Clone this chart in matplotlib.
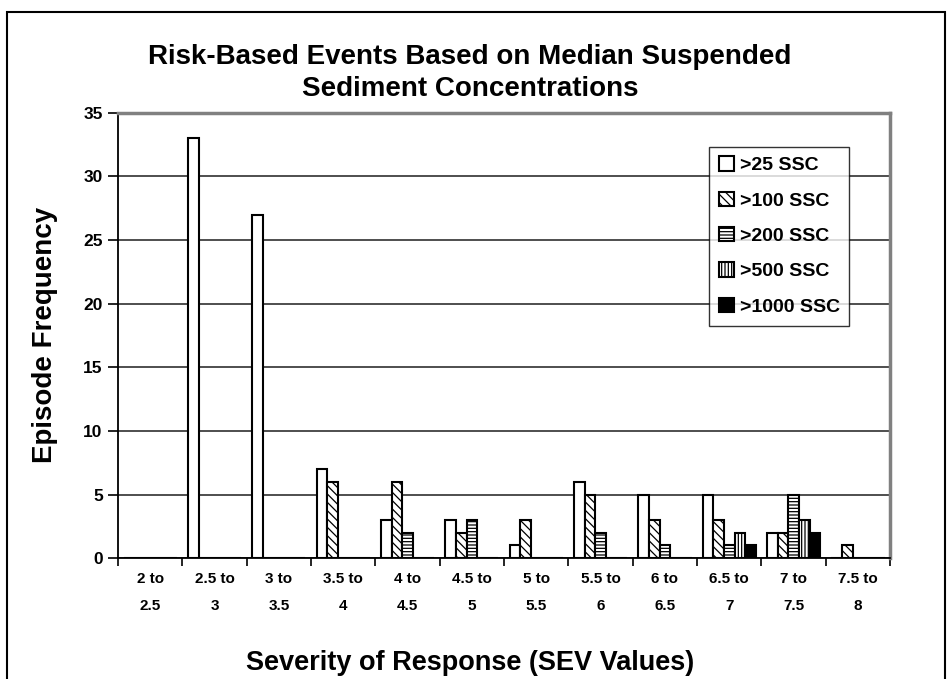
import matplotlib
matplotlib.use("Agg")
import matplotlib.pyplot as plt
import numpy as np
from matplotlib.patches import Rectangle

categories = ["2 to\n2.5", "2.5 to\n3", "3 to\n3.5", "3.5 to\n4", "4 to\n4.5", "4.5 to\n5",
              "5 to\n5.5", "5.5 to\n6", "6 to\n6.5", "6.5 to\n7", "7 to\n7.5", "7.5 to\n8"]
ssc25 = [0, 33, 27, 7, 3, 3, 1, 6, 5, 5, 2, 0]
ssc100 = [0, 0, 0, 6, 6, 2, 3, 5, 3, 3, 2, 1]
ssc200 = [0, 0, 0, 0, 2, 3, 0, 2, 1, 1, 5, 0]
ssc500 = [0, 0, 0, 0, 0, 0, 0, 0, 0, 2, 3, 0]
ssc1000 = [0, 0, 0, 0, 0, 0, 0, 0, 0, 1, 2, 0]
series_names = [">25 SSC", ">100 SSC", ">200 SSC", ">500 SSC", ">1000 SSC"]
yticks = [0, 5, 10, 15, 20, 25, 30, 35]

plt.rcParams['font.family'] = ['Liberation Sans', 'DejaVu Sans']
plt.rcParams['hatch.linewidth'] = 0.9

fig = plt.figure(figsize=(9.48, 6.79), dpi=100)
ax = fig.add_axes([0.1245, 0.178, 0.8145, 0.656])

series = [ssc25, ssc100, ssc200, ssc500, ssc1000]
styles = [dict(facecolor='white', hatch=None),
          dict(facecolor='white', hatch='\\\\\\\\'),
          dict(facecolor='white', hatch='-----'),
          dict(facecolor='white', hatch='|||||'),
          dict(facecolor='black', hatch=None)]
x = np.arange(len(categories))
w = 0.165
for i, (vals, st, name) in enumerate(zip(series, styles, series_names)):
    ax.bar(x + (i - 2) * w, vals, width=w, edgecolor='black', linewidth=1.5,
           label=name, zorder=3, **st)

ax.set_xlim(-0.5, len(categories) - 0.5)
ax.set_ylim(0, 35)
ax.set_yticks(yticks)
ax.set_yticklabels([str(t) for t in yticks], fontsize=12.5, fontweight='bold')
ax.set_xticks(x)
ax.set_xticklabels(categories, fontsize=11, fontweight='bold', linespacing=2.2)
ax.tick_params(axis='x', length=0, pad=10)
ax.set_xticks(np.arange(-0.5, len(categories)), minor=True)
ax.tick_params(axis='x', which='minor', length=6, width=1.2, direction='out')
ax.tick_params(axis='y', length=7, width=1.2, direction='out', pad=4)

ax.yaxis.grid(True, color='#404040', linewidth=1.3, zorder=0)
ax.set_axisbelow(True)
for s in ['top', 'right']:
    ax.spines[s].set_color('#808080')
    ax.spines[s].set_linewidth(2.5)
ax.spines['left'].set_color('black')
ax.spines['left'].set_linewidth(1.3)
ax.spines['bottom'].set_color('black')
ax.spines['bottom'].set_linewidth(1.3)

ax.set_ylabel("Episode Frequency", fontsize=20, fontweight='bold')
ax.yaxis.set_label_coords((45 - 118) / 772, 0.5)
ax.set_xlabel("Severity of Response (SEV Values)", fontsize=19.5, fontweight='bold')
ax.xaxis.set_label_coords((470 - 118) / 772, (558 - 663) / 445)
ax.xaxis.label.set_va('center')
ax.yaxis.label.set_va('center')

fig.text(470 / 948, 1 - 73 / 679, "Risk-Based Events Based on Median Suspended\nSediment Concentrations",
         ha='center', va='center', fontsize=20, fontweight='bold', linespacing=1.3)

leg = ax.legend(loc='upper left', bbox_to_anchor=(0.766, 0.924), borderaxespad=0,
                prop={'size': 14, 'weight': 'bold'}, frameon=True, fancybox=False,
                edgecolor='black', handlelength=0.75, handleheight=0.75,
                handletextpad=0.3, labelspacing=0.9, borderpad=0.5)
leg.get_frame().set_linewidth(1.0)

fig.patches.append(Rectangle((0.007, -0.05), 0.99, 1.0318, transform=fig.transFigure,
                             fill=False, edgecolor='black', linewidth=1.5))

fig.savefig("out.png", dpi=100)
